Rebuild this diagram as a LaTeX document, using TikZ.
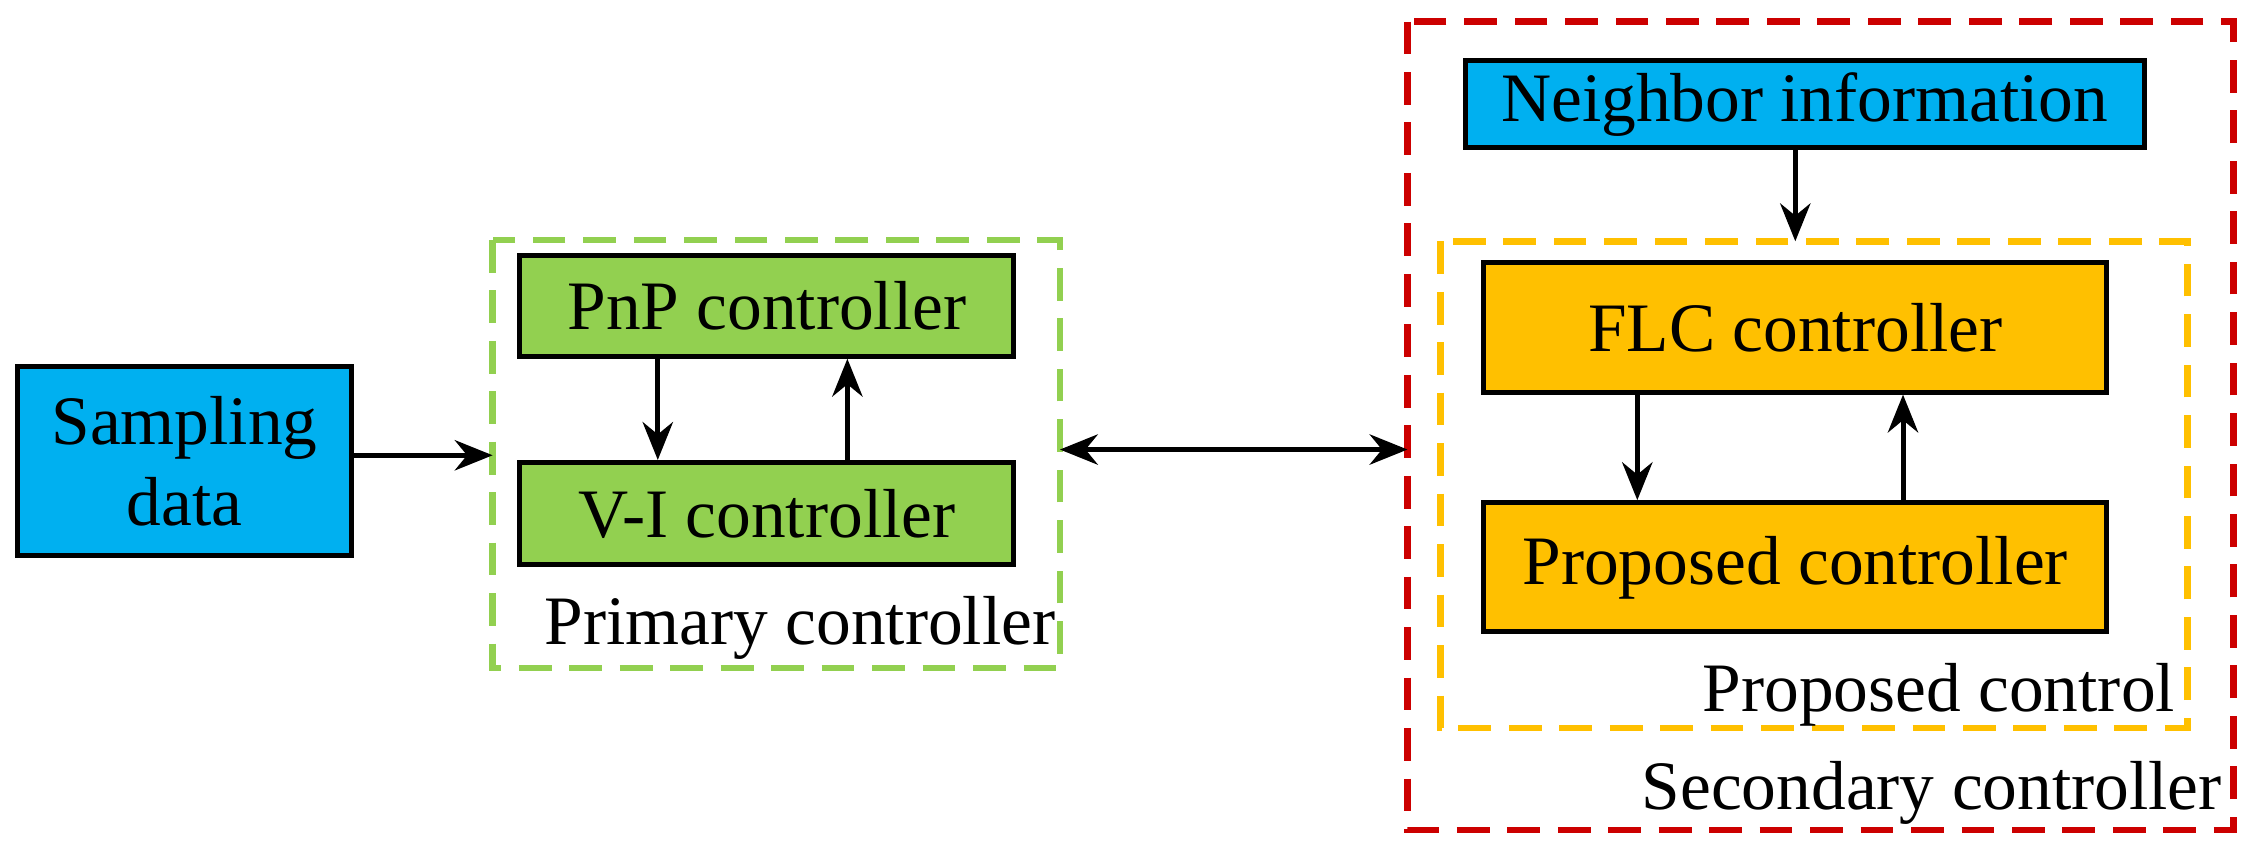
\documentclass[tikz,border=0pt]{standalone}
\usepackage{fontspec}
\setmainfont{Liberation Serif}
\usetikzlibrary{arrows.meta}
\definecolor{cy}{RGB}{0,176,240}
\definecolor{gr}{RGB}{146,208,80}
\definecolor{og}{RGB}{255,192,0}
\definecolor{rd}{RGB}{204,0,0}
\begin{document}
\begin{tikzpicture}[x=0.02cm,y=-0.02cm,
  box/.style={draw=black,line width=2pt,inner sep=0pt,font=\fontsize{27.5}{32}\selectfont},
  dbox/.style={dash pattern=on 13pt off 7pt,line width=2.6pt},
  tip/.tip={Stealth[length=15pt,width=12pt]},
  arr/.style={-tip,line width=2pt},
  lab/.style={font=\fontsize{27.5}{32}\selectfont,inner sep=0pt}]
\useasboundingbox (0,0) rectangle (1568,598);
\draw[dbox,gr] (343,167) rectangle (738,465);
\draw[dbox,rd] (980,15) rectangle (1555,578);
\draw[dbox,og] (1003,168) rectangle (1523,507);
\node[box,fill=cy,minimum width=4.66cm,align=center,minimum height=2.64cm] (samp) at (128.5,321) {Sampling\\data};
\node[box,fill=gr,minimum width=6.88cm,minimum height=1.4cm] (pnp) at (534,213) {PnP controller};
\node[box,fill=gr,minimum width=6.88cm,minimum height=1.42cm] (vi) at (534,357.5) {V-I controller};
\node[box,fill=cy,minimum width=9.46cm,minimum height=1.22cm] (nb) at (1256.5,72.5) {Neighbor information};
\node[box,fill=og,minimum width=8.68cm,minimum height=1.8cm] (flc) at (1250,228) {FLC controller};
\node[box,fill=og,minimum width=8.68cm,minimum height=1.8cm] (prop) at (1250,395) {Proposed controller};
\node[lab] (pl) at (557,437) {Primary controller};
\node[lab] (pcl) at (1350,484) {Proposed control};
\node[lab] (scl) at (1345,552) {Secondary controller};
\coordinate (gl) at (343,317);
\coordinate (gr1) at (738,313);
\coordinate (rl) at (980,313);
\coordinate (ot) at (1250,168);
\draw[arr] (samp.east|-gl) -- (gl);
\draw[arr] (pnp.south-|458,0) -- (vi.north-|458,0);
\draw[arr] (vi.north-|590,0) -- (pnp.south-|590,0);
\draw[arr,tip-tip] (gr1) -- (rl);
\draw[arr] (nb.south-|ot) -- (ot);
\draw[arr] (flc.south-|1140,0) -- (prop.north-|1140,0);
\draw[arr] (prop.north-|1325,0) -- (flc.south-|1325,0);
\end{tikzpicture}
\end{document}
